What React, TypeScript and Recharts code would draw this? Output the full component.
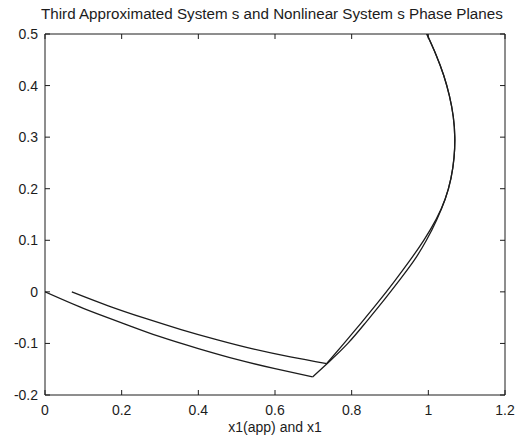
import React from 'react';
import { LineChart, Line, XAxis, YAxis, Label } from 'recharts';

const xTicks = [0, 0.2, 0.4, 0.6, 0.8, 1, 1.2];
const yTicks = [-0.2, -0.1, 0, 0.1, 0.2, 0.3, 0.4, 0.5];

// lower-left branches (x1, x2)
const branchAX = [0, 0.1, 0.2, 0.3, 0.4, 0.5, 0.6, 0.698];
const branchAY = [0, -0.032, -0.06, -0.087, -0.11, -0.131, -0.149, -0.165];
const branchBX = [0.07, 0.165, 0.26, 0.355, 0.45, 0.545, 0.64, 0.735];
const branchBY = [0, -0.027, -0.051, -0.073, -0.093, -0.111, -0.126, -0.139];

// right arcs, from the corner up to x2 = 0.5
const arcAX = [0.698, 0.742, 0.79, 0.836, 0.88, 0.922, 0.962, 0.995, 1.022, 1.044, 1.059, 1.067, 1.069, 1.065, 1.055, 1.04, 1.02, 0.996];
const arcAY = [-0.165, -0.135, -0.1, -0.06, -0.02, 0.02, 0.06, 0.1, 0.14, 0.18, 0.22, 0.26, 0.3, 0.34, 0.38, 0.42, 0.46, 0.5];
const arcBX = [0.735, 0.78, 0.825, 0.869, 0.911, 0.951, 0.988, 1.02, 1.044, 1.059, 1.067, 1.069, 1.065, 1.055, 1.04, 1.02, 0.996];
const arcBY = [-0.139, -0.1, -0.06, -0.02, 0.02, 0.06, 0.1, 0.14, 0.18, 0.22, 0.26, 0.3, 0.34, 0.38, 0.42, 0.46, 0.5];

const zip = (xs: number[], ys: number[]) => xs.map((x, i) => ({ x, y: ys[i] }));

const font = '"Liberation Sans", Arial, sans-serif';
const ink = '#1c1c1c';

export default function App() {
  const tickStyle = { fontSize: 14, fill: ink, fontFamily: font };
  const lines = [
    { key: 'a1', data: zip(branchAX, branchAY) },
    { key: 'a2', data: zip(arcAX, arcAY) },
    { key: 'b1', data: zip(branchBX, branchBY) },
    { key: 'b2', data: zip(arcBX, arcBY) },
  ];
  return (
    <div style={{ position: 'absolute', left: 0, top: 0, width: 517, height: 441, background: '#fff' }}>
      <div
        style={{
          position: 'absolute', left: 41, top: 5, width: 460, textAlign: 'center',
          fontFamily: font, fontSize: 15.2, lineHeight: '18px', color: ink, whiteSpace: 'nowrap',
        }}
      >
        Third Approximated System s and Nonlinear System s Phase Planes
      </div>
      <LineChart width={517} height={441} margin={{ top: 33, right: 11, bottom: 6, left: 5 }}>
        <XAxis
          dataKey="x" type="number" domain={[0, 1.2]} ticks={xTicks} allowDataOverflow
          height={40} tickSize={-5} tickMargin={15} tick={tickStyle}
          stroke={ink} interval={0}
        >
          <Label value="x1(app) and x1" position="insideBottom" offset={3}
            style={{ fontSize: 14, fill: ink, fontFamily: font }} />
        </XAxis>
        <XAxis
          xAxisId="top" orientation="top" dataKey="x" type="number" domain={[0, 1.2]}
          ticks={xTicks} allowDataOverflow height={1} tickSize={-5} tickFormatter={() => ''}
          stroke={ink} interval={0}
        />
        <YAxis
          type="number" domain={[-0.2, 0.5]} ticks={yTicks} allowDataOverflow
          width={40} tickSize={-5} tickMargin={12} tick={tickStyle} stroke={ink} interval={0}
        />
        <YAxis
          yAxisId="right" orientation="right" type="number" domain={[-0.2, 0.5]} ticks={yTicks}
          allowDataOverflow width={1} tickSize={-5} tickFormatter={() => ''} stroke={ink} interval={0}
        />
        {lines.map(l => (
          <Line key={l.key} data={l.data} dataKey="y" type="natural" stroke={ink}
            strokeWidth={1.3} dot={false} isAnimationActive={false} />
        ))}
      </LineChart>
    </div>
  );
}
